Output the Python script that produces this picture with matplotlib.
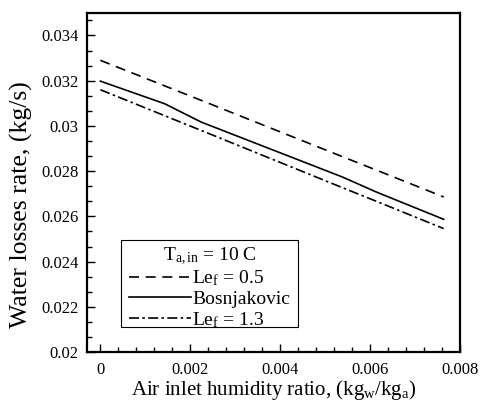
import matplotlib
matplotlib.use("Agg")
import matplotlib.pyplot as plt
from matplotlib.patches import Rectangle
from matplotlib.ticker import MultipleLocator, AutoMinorLocator, FuncFormatter

plt.rcParams['font.family'] = ['Liberation Serif', 'DejaVu Serif']
plt.rcParams['mathtext.fontset'] = 'custom'
plt.rcParams['mathtext.rm'] = 'Liberation Serif'
plt.rcParams['mathtext.it'] = 'Liberation Serif:italic'

# humidity ratio (kg_w/kg_a)
humidity = [0.0, 0.00143, 0.00224, 0.00538, 0.00613, 0.00763]
# water losses rate (kg/s)
loss_le05 = [0.0329, 0.03177, 0.03113, 0.02864, 0.02805, 0.02686]
loss_bosnj = [0.03198, 0.03098, 0.03017, 0.02774, 0.02708, 0.02587]
loss_le13 = [0.0316, 0.03045, 0.0298, 0.02727, 0.02667, 0.02546]

labels = [r'Le$_\mathregular{f}$ = 0.5', 'Bosnjakovic', r'Le$_\mathregular{f}$ = 1.3']
legend_title = r'T$_\mathregular{a,in}$ = 10 C'

fig = plt.figure(figsize=(4.8, 4.01), dpi=100)
ax = fig.add_axes([0.181, 0.122, 0.778, 0.846])

ax.plot(humidity, loss_le05, color='black', lw=1.2, linestyle=(0, (6, 4)), label=labels[0])
ax.plot(humidity, loss_bosnj, color='black', lw=1.2, linestyle='-', label=labels[1])
ax.plot(humidity, loss_le13, color='black', lw=1.2, linestyle=(0, (6, 2, 1.5, 2)), label=labels[2])

ax.set_xlim(-0.0003, 0.008)
ax.set_ylim(0.02, 0.035)

ax.xaxis.set_major_locator(MultipleLocator(0.002))
ax.xaxis.set_minor_locator(AutoMinorLocator(5))
ax.yaxis.set_major_locator(MultipleLocator(0.002))
ax.yaxis.set_minor_locator(AutoMinorLocator(3))
fmt = FuncFormatter(lambda v, p: '%g' % round(v, 6))
ax.xaxis.set_major_formatter(fmt)
ax.yaxis.set_major_formatter(fmt)

ax.tick_params(which='both', direction='in', top=False, right=False, labelsize=12, width=1)
ax.tick_params(which='major', length=6)
ax.tick_params(which='minor', length=3.5)
ax.tick_params(axis='y', which='major', pad=6)
ax.tick_params(axis='x', which='major', pad=7)
for s in ax.spines.values():
    s.set_linewidth(1.6)

ax.set_xlabel(r'Air inlet humidity ratio, (kg$_\mathregular{w}$/kg$_\mathregular{a}$)', fontsize=15, labelpad=0)
ax.set_ylabel('Water losses rate, (kg/s)', fontsize=18.5)
ax.yaxis.set_label_coords(-0.143, 0.435)

# legend box drawn by hand so the padding matches
ax.add_patch(Rectangle((0.091, 0.074), 0.474, 0.256, transform=ax.transAxes,
                       fill=False, edgecolor='black', lw=0.8, zorder=4))
leg = ax.legend(title=legend_title, loc='center', bbox_to_anchor=(0.328, 0.19),
                borderaxespad=0, fontsize=14, title_fontsize=14, handlelength=3.2,
                handletextpad=0.05, borderpad=0, labelspacing=0.1, frameon=False)

fig.savefig('out.png', dpi=100)
